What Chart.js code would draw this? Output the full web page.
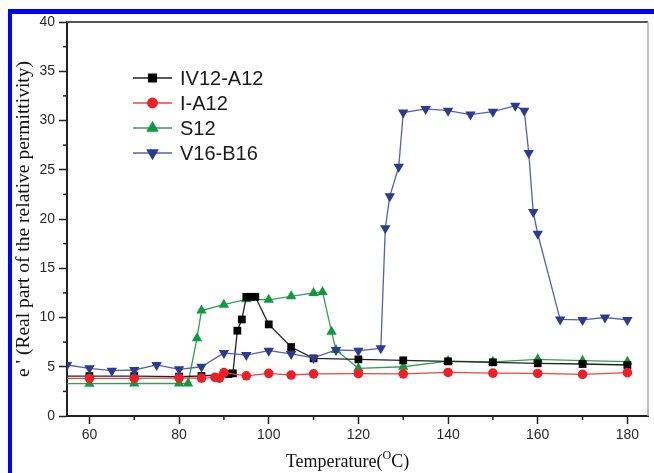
<!DOCTYPE html>
<html>
<head>
<meta charset="utf-8">
<script src="https://cdn.jsdelivr.net/npm/chart.js@4.4.1/dist/chart.umd.min.js"></script>
<style>
  html, body { margin: 0; padding: 0; background: #fff; }
  #wrap { position: relative; width: 654px; height: 473px; overflow: hidden; }
  #frame { position: absolute; left: 8px; top: 9px; right: 0; bottom: 0;
           border-left: 4px solid #0000ff; border-top: 5px solid #0000ff; pointer-events: none; }
</style>
</head>
<body>
<div id="wrap">
  <canvas id="grafico" width="654" height="473"></canvas>
  <div id="frame"></div>
</div>
<script>
// data
const ivTemps  = [50, 60, 70, 80, 85, 91, 92, 93, 94, 95, 96, 97, 100, 105, 110, 120, 130, 140, 150, 160, 170, 180];
const ivValues = [4.05, 4.05, 4.05, 4.0, 4.06, 4.26, 4.33, 8.66, 9.8, 12.1, 12.1, 12.1, 9.3, 7.0, 5.85, 5.75, 5.65, 5.55, 5.45, 5.35, 5.28, 5.18];

const iTemps  = [50, 60, 70, 80, 85, 88, 89, 90, 95, 100, 105, 110, 120, 130, 140, 150, 160, 170, 180];
const iValues = [3.82, 3.82, 3.82, 3.88, 3.85, 3.93, 3.85, 4.4, 4.08, 4.33, 4.16, 4.28, 4.3, 4.28, 4.42, 4.35, 4.32, 4.23, 4.4];

const sTemps  = [50, 60, 70, 80, 82, 84, 85, 90, 95, 100, 105, 110, 112, 114, 115, 120, 130, 140, 150, 160, 170, 180];
const sValues = [3.28, 3.28, 3.3, 3.3, 3.3, 7.9, 10.7, 11.3, 11.85, 11.8, 12.15, 12.5, 12.6, 8.56, 6.7, 4.84, 5.0, 5.58, 5.5, 5.75, 5.62, 5.52];

const vTemps  = [55, 60, 65, 70, 75, 80, 85, 90, 95, 100, 105, 110, 115, 120, 125, 126, 127, 129, 130, 135, 140, 145, 150, 155, 157, 158, 159, 160, 165, 170, 175, 180];
const vValues = [5.18, 4.84, 4.6, 4.67, 5.18, 4.74, 5.0, 6.4, 6.19, 6.63, 6.3, 5.9, 6.7, 6.63, 6.87, 19.05, 22.3, 25.3, 30.8, 31.17, 31.0, 30.6, 30.9, 31.5, 31.0, 26.7, 20.7, 18.5, 9.8, 9.75, 10.0, 9.75];

const seriesNames = ['IV12-A12', 'I-A12', 'S12', 'V16-B16'];
const xTickValues = [60, 70, 80, 90, 100, 110, 120, 130, 140, 150, 160, 170, 180];

function toPoints(xs, ys) {
  return xs.map((x, i) => ({ x: x, y: ys[i] }));
}

const serif = '"Liberation Serif", "DejaVu Serif", serif';
const sans = '"Liberation Sans", Arial, sans-serif';

// legend drawn as line - marker - line, like the original
const innerLegend = {
  id: 'innerLegend',
  afterDatasetsDraw(chart) {
    const ctx = chart.ctx;
    ctx.save();
    chart.data.datasets.forEach((ds, i) => {
      const y = 78 + i * 25;
      ctx.strokeStyle = ds.borderColor;
      ctx.lineWidth = 1.3;
      ctx.beginPath();
      ctx.moveTo(133, y);
      ctx.lineTo(172, y);
      ctx.stroke();
      ctx.fillStyle = ds.pointBackgroundColor;
      ctx.strokeStyle = ds.pointBackgroundColor;
      Chart.helpers.drawPoint(ctx, {
        pointStyle: ds.pointStyle, rotation: ds.pointRotation || 0,
        radius: ds.pointRadius, borderWidth: 1
      }, 152.5, y);
      ctx.fillStyle = '#1a1a1a';
      ctx.font = '20px ' + sans;
      ctx.textBaseline = 'middle';
      ctx.textAlign = 'left';
      ctx.fillText(ds.label, 180, y + 1);
    });
    ctx.restore();
  }
};

// minor ticks, top/right frame and the x title with its superscript
const extras = {
  id: 'extras',
  afterDraw(chart) {
    const ctx = chart.ctx;
    const a = chart.chartArea;
    const xs = chart.scales.x, ys = chart.scales.y;
    ctx.save();
    ctx.strokeStyle = '#222';
    ctx.lineWidth = 1.5;
    for (let v = 70; v <= 170; v += 20) {
      const px = xs.getPixelForValue(v);
      ctx.beginPath(); ctx.moveTo(px, a.bottom); ctx.lineTo(px, a.bottom + 4); ctx.stroke();
    }
    for (let v = 2.5; v < 40; v += 5) {
      const py = ys.getPixelForValue(v);
      ctx.beginPath(); ctx.moveTo(a.left, py); ctx.lineTo(a.left - 4, py); ctx.stroke();
    }
    ctx.strokeStyle = '#555';
    ctx.lineWidth = 2;
    ctx.beginPath(); ctx.moveTo(a.left, a.top); ctx.lineTo(a.right, a.top); ctx.stroke();
    ctx.strokeStyle = '#aaa';
    ctx.lineWidth = 1.5;
    ctx.beginPath(); ctx.moveTo(a.right, a.top); ctx.lineTo(a.right, a.bottom); ctx.stroke();

    const p1 = 'Temperature(', sup = 'O', p2 = 'C)';
    const main = '18px ' + serif, small = '12px ' + serif;
    ctx.font = main;
    const w1 = ctx.measureText(p1).width, w3 = ctx.measureText(p2).width;
    ctx.font = small;
    const w2 = ctx.measureText(sup).width;
    const cx = (a.left + a.right) / 2 - 10;
    let x = cx - (w1 + w2 + w3) / 2;
    const y = 462;
    ctx.fillStyle = '#111';
    ctx.textBaseline = 'middle';
    ctx.textAlign = 'left';
    ctx.font = main; ctx.fillText(p1, x, y); x += w1;
    ctx.font = small; ctx.fillText(sup, x, y - 6); x += w2;
    ctx.font = main; ctx.fillText(p2, x, y);
    ctx.restore();
  }
};

const config = {
  type: 'line',
  data: {
    datasets: [
      {
        label: seriesNames[0],
        data: toPoints(ivTemps, ivValues),
        borderColor: '#222222', borderWidth: 1.3,
        pointStyle: 'rect', pointRadius: 5.5,
        pointBackgroundColor: '#000000', pointBorderColor: '#000000', pointBorderWidth: 0,
        order: 3
      },
      {
        label: seriesNames[1],
        data: toPoints(iTemps, iValues),
        borderColor: '#e84545', borderWidth: 1.3,
        pointStyle: 'circle', pointRadius: 4.8,
        pointBackgroundColor: '#ee1f26', pointBorderColor: '#ee1f26', pointBorderWidth: 0,
        order: 2
      },
      {
        label: seriesNames[2],
        data: toPoints(sTemps, sValues),
        borderColor: '#3a9a5a', borderWidth: 1.3,
        pointStyle: 'triangle', pointRadius: 6,
        pointBackgroundColor: '#0f9a42', pointBorderColor: '#0f9a42', pointBorderWidth: 0,
        order: 4
      },
      {
        label: seriesNames[3],
        data: toPoints(vTemps, vValues),
        borderColor: '#5363ad', borderWidth: 1.3,
        pointStyle: 'triangle', pointRotation: 180, pointRadius: 6,
        pointBackgroundColor: '#2d3a92', pointBorderColor: '#2d3a92', pointBorderWidth: 0,
        order: 1
      }
    ]
  },
  options: {
    responsive: false,
    animation: false,
    layout: { padding: { top: 22, right: 1, left: 0, bottom: 0 } },
    plugins: {
      legend: { display: false },
      tooltip: { enabled: false },
      title: { display: false }
    },
    elements: { line: { tension: 0 } },
    scales: {
      x: {
        type: 'linear',
        min: 55, max: 184.6,
        afterBuildTicks: (scale) => { scale.ticks = xTickValues.map(v => ({ value: v })); },
        afterFit: (scale) => { scale.height = 57; },
        ticks: {
          autoSkip: false, maxRotation: 0, padding: 3,
          color: '#2a2a2a', font: { family: sans, size: 14 },
          callback: (v) => (v % 20 === 0 ? String(v) : '')
        },
        grid: {
          drawOnChartArea: false, tickLength: 8, tickWidth: 1.5,
          tickColor: (c) => (c.tick && c.tick.value % 20 === 0 ? '#222' : 'rgba(0,0,0,0)')
        },
        border: { display: true, color: '#222', width: 2 }
      },
      y: {
        min: 0, max: 40,
        afterFit: (scale) => { scale.width = 67; },
        ticks: {
          stepSize: 5, padding: 4,
          color: '#2a2a2a', font: { family: sans, size: 14 }
        },
        grid: { drawOnChartArea: false, tickLength: 8, tickWidth: 1.5, tickColor: '#222' },
        border: { display: true, color: '#222', width: 2 },
        title: {
          display: true,
          text: "e ' (Real part of the relative permittivity)",
          color: '#111',
          font: { family: serif, size: 19.5 },
          padding: { top: 12, bottom: 0 }
        }
      }
    }
  },
  plugins: [innerLegend, extras]
};

const ctx = document.getElementById('grafico').getContext('2d');
const chart = new Chart(ctx, config);
</script>
</body>
</html>
